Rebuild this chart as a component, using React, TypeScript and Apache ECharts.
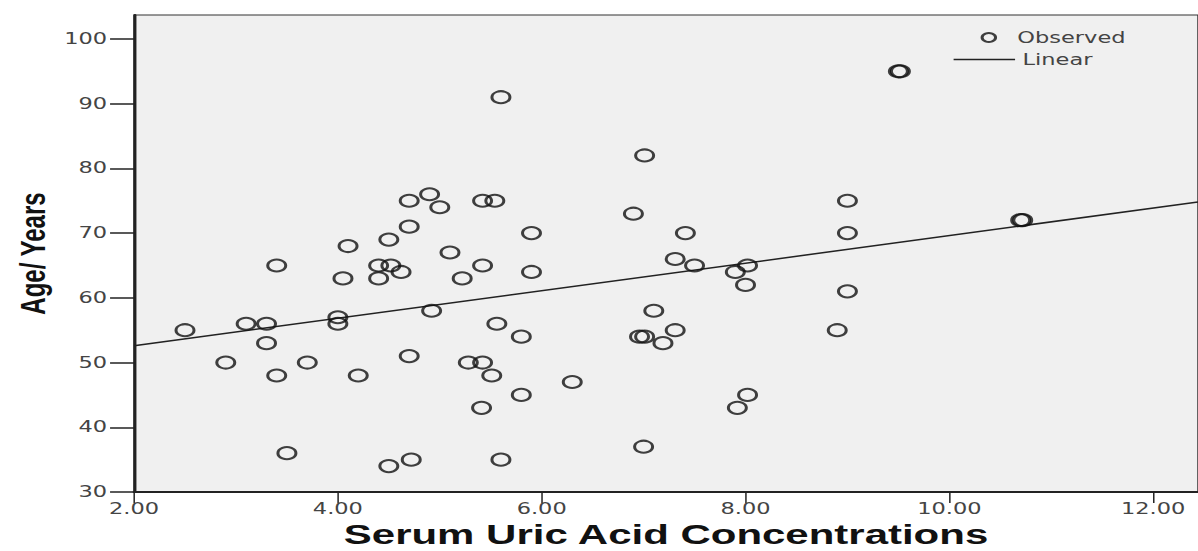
import React, { useEffect, useRef } from "react";
import * as echarts from "echarts";

// Observed points: serum uric acid (x) vs age in years (y)
const obsX = [
  2.5, 2.9, 3.1, 3.3, 3.3, 3.4, 3.4, 3.5, 3.7, 4.0, 4.0, 4.1, 4.05, 4.2, 4.4, 4.4,
  4.5, 4.5, 4.52, 4.62, 4.7, 4.7, 4.7, 4.72, 4.9, 4.92, 5.0, 5.1, 5.22, 5.28, 5.42, 5.42,
  5.41, 5.42, 5.54, 5.51, 5.56, 5.6, 5.6, 5.8, 5.8, 5.9, 5.9, 6.3, 6.9, 6.96, 7.01, 7.01,
  7.0, 7.1, 7.19, 7.31, 7.31, 7.41, 7.5, 7.9, 7.92, 8.02, 8.0, 8.02, 8.9, 9.0, 9.0, 9.0,
  9.5, 9.52, 10.7, 10.72,
];
const obsY = [
  55, 50, 56, 56, 53, 65, 48, 36, 50, 57, 56, 68, 63, 48, 63, 65,
  34, 69, 65, 64, 75, 71, 51, 35, 76, 58, 74, 67, 63, 50, 50, 65,
  43, 75, 75, 48, 56, 91, 35, 54, 45, 64, 70, 47, 73, 54, 54, 82,
  37, 58, 53, 66, 55, 70, 65, 64, 43, 45, 62, 65, 55, 75, 70, 61,
  95, 95, 72, 72,
];

// Linear fit line (at both ends of the x range)
const fitX = [2.0, 12.44];
const fitY = [52.6, 74.8];

const xTicks = [2, 4, 6, 8, 10, 12];
const yTicks = [30, 40, 50, 60, 70, 80, 90, 100];

const OUT_W = 1198;
const OUT_H = 551;
const IN_W = 799;
const SX = OUT_W / IN_W;

export default function App() {
  const ref = useRef<HTMLDivElement>(null);

  useEffect(() => {
    const el = ref.current;
    if (!el) return;
    const chart = echarts.init(el, null, { renderer: "svg", width: IN_W, height: OUT_H });
    const tickFont = { fontFamily: "DejaVu Sans", fontSize: 15, lineHeight: 15, color: "#444" };
    const legendFont = { fontFamily: "DejaVu Sans", fontSize: 15, color: "#444" };
    chart.setOption({
      animation: false,
      backgroundColor: "#ffffff",
      grid: {
        left: 89.4,
        right: 0,
        top: 15,
        bottom: 59,
        show: true,
        backgroundColor: "#f0f0f0",
        borderColor: "#333",
        borderWidth: 1,
        containLabel: false,
        outerBoundsMode: "none",
      },
      legend: [
        {
          data: ["Observed"],
          left: 654,
          top: 30,
          padding: 0,
          itemWidth: 28,
          itemHeight: 9,
          selectedMode: false,
          textStyle: legendFont,
        },
        {
          data: [{ name: "Linear", icon: "rect" }],
          left: 636,
          top: 52,
          padding: 0,
          itemWidth: 41,
          itemHeight: 1.5,
          selectedMode: false,
          textStyle: legendFont,
        },
      ],
      xAxis: {
        type: "value",
        min: 2,
        max: 12.44,
        interval: 2,
        name: "Serum Uric Acid Concentrations",
        nameLocation: "middle",
        nameGap: 29,
        nameMoveOverlap: false,
        nameTextStyle: {
          fontFamily: "Liberation Sans",
          fontWeight: "bold",
          fontSize: 28,
          lineHeight: 28,
          color: "#111",
        },
        axisLine: { show: true, onZero: false, lineStyle: { color: "#222", width: 2 } },
        axisTick: {
          show: true,
          inside: false,
          length: 11,
          customValues: xTicks,
          lineStyle: { color: "#222", width: 1 },
        },
        axisLabel: {
          ...tickFont,
          customValues: xTicks,
          margin: 9,
          formatter: (v: number) => (xTicks.includes(v) ? v.toFixed(2) : ""),
        },
        splitLine: { show: false },
      },
      yAxis: {
        type: "value",
        min: 30,
        max: 103.7,
        interval: 10,
        name: "Age/ Years",
        nameLocation: "middle",
        nameGap: 56,
        nameMoveOverlap: false,
        nameRotate: 90,
        nameTextStyle: {
          fontFamily: "Liberation Sans",
          fontWeight: "bold",
          fontSize: 24,
          color: "#111",
        },
        axisLine: { show: true, onZero: false, lineStyle: { color: "#222", width: 2 } },
        axisTick: {
          show: true,
          inside: false,
          length: 16,
          customValues: yTicks,
          lineStyle: { color: "#222", width: 1.5 },
        },
        axisLabel: {
          ...tickFont,
          customValues: yTicks,
          margin: 18,
          formatter: (v: number) => (yTicks.includes(v) ? String(v) : ""),
        },
        splitLine: { show: false },
      },
      series: [
        {
          name: "Observed",
          type: "scatter",
          data: obsX.map((x, i) => [x, obsY[i]]),
          symbol: "circle",
          symbolSize: 12,
          itemStyle: { color: "rgba(0,0,0,0)", borderColor: "#111", borderWidth: 2 },
          z: 3,
        },
        {
          name: "Linear",
          type: "line",
          data: fitX.map((x, i) => [x, fitY[i]]),
          symbol: "none",
          showSymbol: false,
          lineStyle: { color: "#222", width: 1.5 },
          itemStyle: { color: "#222" },
          z: 2,
        },
      ],
    });
    return () => chart.dispose();
  }, []);

  return (
    <div
      style={{
        position: "fixed",
        left: 0,
        top: 0,
        width: OUT_W,
        height: OUT_H,
        overflow: "hidden",
        background: "#ffffff",
      }}
    >
      <div
        ref={ref}
        style={{
          width: IN_W,
          height: OUT_H,
          transform: `scaleX(${SX})`,
          transformOrigin: "0 0",
        }}
      />
    </div>
  );
}
